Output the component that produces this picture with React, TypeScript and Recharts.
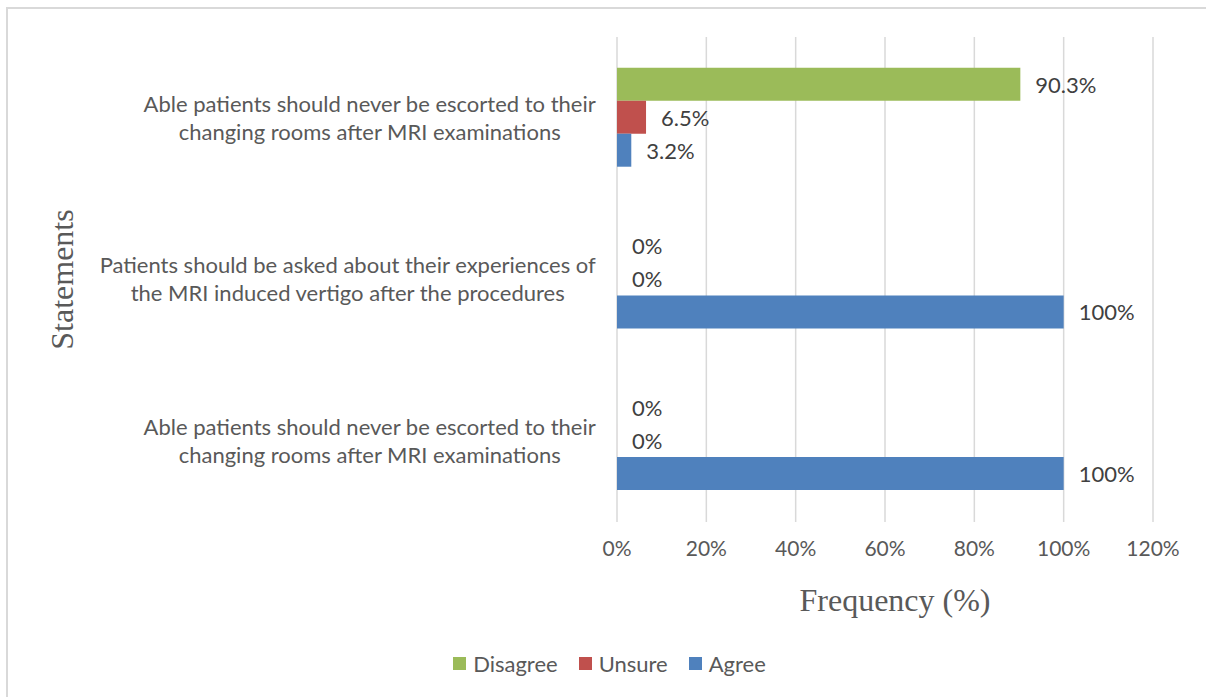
import React from 'react';
import { BarChart, Bar, XAxis, YAxis, CartesianGrid, Legend, LabelList, Label } from 'recharts';

// statements shown on the vertical axis, top to bottom (two lines each)
const statements = [
  ['Able patients should never be escorted to their', 'changing rooms after MRI examinations'],
  ['Patients should be asked about their experiences of', 'the MRI induced vertigo after the procedures'],
  ['Able patients should never be escorted to their', 'changing rooms after MRI examinations'],
];
const disagree = [90.3, 0, 0];
const unsure = [6.5, 0, 0];
const agree = [3.2, 100, 100];
const xTicks = [0, 20, 40, 60, 80, 100, 120];
const seriesOrder = ['Disagree', 'Unsure', 'Agree'];

const data = statements.map((lines, i) => ({
  id: i,
  disagree: disagree[i],
  unsure: unsure[i],
  agree: agree[i],
}));

const FONT = 'Lato, "Open Sans", sans-serif';
const SERIF = '"Liberation Serif", "DejaVu Serif", serif';
const TICK_SIZE = 22;

let ctx: CanvasRenderingContext2D | null = null;
const measure = (s: string, font: string) => {
  if (!ctx) ctx = document.createElement('canvas').getContext('2d');
  if (!ctx) return s.length * 10;
  ctx.font = font;
  return ctx.measureText(s).width;
};

const StatementTick = (props: any) => {
  const { x, y, payload } = props;
  const lines = statements[payload.value] || [];
  const w = Math.max(...lines.map((l) => measure(l, `${TICK_SIZE}px Lato`)));
  const cx = x - w / 2;
  return (
    <text x={cx} y={y} textAnchor="middle" fill="#595959" fontSize={TICK_SIZE} fontFamily={FONT}>
      {lines.map((l, i) => (
        <tspan key={i} x={cx} y={y - 14 + i * 28} dy="0.35em">
          {l}
        </tspan>
      ))}
    </text>
  );
};

const renderLegend = (props: any) => {
  const items = [...(props.payload || [])].sort(
    (a: any, b: any) => seriesOrder.indexOf(a.value) - seriesOrder.indexOf(b.value)
  );
  return (
    <div
      style={{
        display: 'flex',
        justifyContent: 'center',
        alignItems: 'center',
        height: 24,
        paddingLeft: 66,
        position: 'relative',
        top: -2,
        fontFamily: FONT,
        fontSize: 22,
        color: '#595959',
      }}
    >
      {items.map((p: any, i: number) => (
        <span key={i} style={{ display: 'flex', alignItems: 'center', marginLeft: i ? 21 : 0 }}>
          <span style={{ width: 13, height: 13, background: p.color, marginRight: 7 }} />
          <span>{p.value}</span>
        </span>
      ))}
    </div>
  );
};

const YTitle = (props: any) => {
  const vb = props.viewBox || { x: 0, y: 0, width: 0, height: 0 };
  const cx = vb.x + 62;
  const cy = vb.y + vb.height / 2;
  return (
    <text
      x={cx}
      y={cy}
      transform={`rotate(-90, ${cx}, ${cy})`}
      textAnchor="middle"
      dominantBaseline="central"
      fill="#595959"
      fontSize={32}
      fontFamily={SERIF}
    >
      Statements
    </text>
  );
};

// zero-valued bars still get their "0%" label, drawn just right of the bar end
const ValueLabel = (props: any) => {
  const { x, y, width, height, value } = props;
  if (value == null) return null;
  return (
    <text
      x={x + (width || 0) + 15}
      y={y + height / 2}
      dominantBaseline="central"
      fill="#404040"
      fontSize={22}
      fontFamily={FONT}
    >
      {`${value}%`}
    </text>
  );
};

const tinyForZero = (v: any) => (v === 0 ? 0.01 : 0);

export default function App() {
  return (
    <div style={{ position: 'absolute', left: 0, top: 0, width: 1206, height: 697, overflow: 'hidden', background: '#fff' }}>
      <div
        style={{
          position: 'absolute',
          left: 6,
          top: 7,
          width: 1230,
          height: 730,
          border: '2px solid #d9d9d9',
        }}
      />
      <div style={{ position: 'absolute', left: 0, top: 0 }}>
        <BarChart
          width={1206}
          height={697}
          data={data}
          layout="vertical"
          margin={{ top: 37, right: 53, bottom: 20, left: 0 }}
          barCategoryGap="19%"
          barGap={0}
        >
          <CartesianGrid horizontal={false} stroke="#d9d9d9" strokeWidth={1.5} />
          <XAxis
            type="number"
            domain={[0, 120]}
            ticks={xTicks}
            axisLine={false}
            tickLine={false}
            tickSize={0}
            tickMargin={19}
            height={131}
            tickFormatter={(v) => `${v}%`}
            tick={{ fill: '#595959', fontSize: 21, fontFamily: FONT }}
          >
            <Label
              value="Frequency (%)"
              position="insideTop"
              offset={66}
              dx={10}
              fill="#595959"
              fontSize={32}
              fontFamily={SERIF}
            />
          </XAxis>
          <YAxis
            type="category"
            dataKey="id"
            width={617}
            axisLine={false}
            tickLine={false}
            tickSize={0}
            tickMargin={21}
            tick={<StatementTick />}
          >
            <Label content={<YTitle />} />
          </YAxis>
          <Legend verticalAlign="bottom" content={renderLegend} />
          <Bar dataKey="disagree" name="Disagree" fill="#9BBB59" minPointSize={tinyForZero} isAnimationActive={false}>
            <LabelList dataKey="disagree" content={<ValueLabel />} />
          </Bar>
          <Bar dataKey="unsure" name="Unsure" fill="#C0504D" minPointSize={tinyForZero} isAnimationActive={false}>
            <LabelList dataKey="unsure" content={<ValueLabel />} />
          </Bar>
          <Bar dataKey="agree" name="Agree" fill="#4F81BD" minPointSize={tinyForZero} isAnimationActive={false}>
            <LabelList dataKey="agree" content={<ValueLabel />} />
          </Bar>
        </BarChart>
      </div>
    </div>
  );
}
